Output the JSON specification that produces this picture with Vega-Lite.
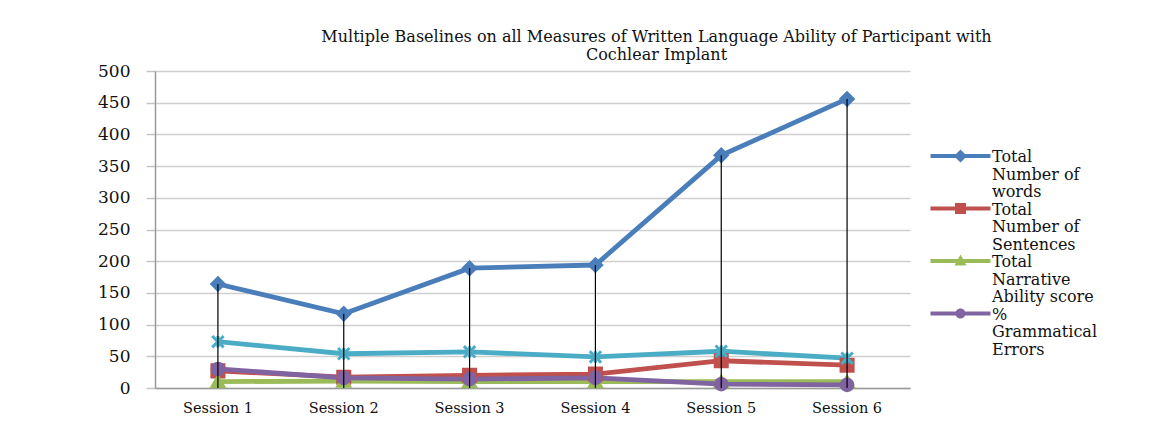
{
  "$schema": "https://vega.github.io/schema/vega-lite/v6.json",
  "width": 755,
  "height": 317,
  "autosize": {"type": "none"},
  "padding": {"left": 155, "top": 71, "right": 258, "bottom": 52},
  "background": "white",
  "config": {
    "view": {"stroke": null},
    "font": "DejaVu Serif",
    "style": {"guide-label": {"lineHeight": 17.5}}
  },
  "title": {
    "text": ["Multiple Baselines on all Measures of Written Language Ability of Participant with", "Cochlear Implant"],
    "font": "DejaVu Serif",
    "fontSize": 16,
    "fontWeight": "normal",
    "color": "#111111",
    "anchor": "middle",
    "frame": "group",
    "dx": 124,
    "offset": -1,
    "lineHeight": 18
  },
  "data": {
    "values": [
      {"session": "Session 1", "series": "Total Number of words", "value": 164},
      {"session": "Session 2", "series": "Total Number of words", "value": 117},
      {"session": "Session 3", "series": "Total Number of words", "value": 189},
      {"session": "Session 4", "series": "Total Number of words", "value": 194},
      {"session": "Session 5", "series": "Total Number of words", "value": 367},
      {"session": "Session 6", "series": "Total Number of words", "value": 456},
      {"session": "Session 1", "series": "Total Number of Sentences", "value": 27},
      {"session": "Session 2", "series": "Total Number of Sentences", "value": 17},
      {"session": "Session 3", "series": "Total Number of Sentences", "value": 20},
      {"session": "Session 4", "series": "Total Number of Sentences", "value": 22},
      {"session": "Session 5", "series": "Total Number of Sentences", "value": 43},
      {"session": "Session 6", "series": "Total Number of Sentences", "value": 36},
      {"session": "Session 1", "series": "Total Narrative Ability score", "value": 10},
      {"session": "Session 2", "series": "Total Narrative Ability score", "value": 11},
      {"session": "Session 3", "series": "Total Narrative Ability score", "value": 10},
      {"session": "Session 4", "series": "Total Narrative Ability score", "value": 10},
      {"session": "Session 5", "series": "Total Narrative Ability score", "value": 10},
      {"session": "Session 6", "series": "Total Narrative Ability score", "value": 10},
      {"session": "Session 1", "series": "% Grammatical Errors", "value": 30},
      {"session": "Session 2", "series": "% Grammatical Errors", "value": 16},
      {"session": "Session 3", "series": "% Grammatical Errors", "value": 14},
      {"session": "Session 4", "series": "% Grammatical Errors", "value": 16},
      {"session": "Session 5", "series": "% Grammatical Errors", "value": 6},
      {"session": "Session 6", "series": "% Grammatical Errors", "value": 5},
      {"session": "Session 1", "series": "Series 5", "value": 73},
      {"session": "Session 2", "series": "Series 5", "value": 54},
      {"session": "Session 3", "series": "Series 5", "value": 57},
      {"session": "Session 4", "series": "Series 5", "value": 49},
      {"session": "Session 5", "series": "Series 5", "value": 58},
      {"session": "Session 6", "series": "Series 5", "value": 47}
    ]
  },
  "encoding": {
    "x": {
      "field": "session",
      "type": "nominal",
      "title": null,
      "scale": {"paddingInner": 0, "paddingOuter": 0},
      "axis": {
        "labelAngle": 0,
        "labelFont": "DejaVu Serif",
        "labelFontSize": 14.5,
        "labelColor": "#111111",
        "labelPadding": 13,
        "ticks": false,
        "domainColor": "#9a9a9a",
        "domainWidth": 1.5,
        "grid": false
      }
    },
    "y": {
      "field": "value",
      "type": "quantitative",
      "title": null,
      "scale": {"domain": [0, 500], "nice": false},
      "axis": {
        "values": [0, 50, 100, 150, 200, 250, 300, 350, 400, 450, 500],
        "labelFont": "DejaVu Serif",
        "labelFontSize": 17,
        "labelColor": "#111111",
        "labelPadding": 16,
        "tickSize": 9,
        "tickColor": "#c4c4c4",
        "tickWidth": 1.5,
        "domainColor": "#9a9a9a",
        "domainWidth": 1.5,
        "gridColor": "#cfcfcf",
        "gridWidth": 1.5
      }
    }
  },
  "resolve": {
    "scale": {"shape": "independent"},
    "legend": {"color": "independent", "shape": "independent", "stroke": "independent", "size": "independent"}
  },
  "layer": [
    {
      "mark": {"type": "line", "strokeWidth": 4.8},
      "encoding": {
        "color": {
          "field": "series",
          "type": "nominal",
          "scale": {
            "domain": ["Total Number of words", "Total Number of Sentences", "Total Narrative Ability score", "% Grammatical Errors", "Series 5"],
            "range": ["#4A7EBB", "#C0504D", "#9BBB59", "#8064A2", "#4BACC6"]
          },
          "legend": null
        }
      }
    },
    {
      "mark": {"type": "point", "filled": true, "strokeWidth": 3, "opacity": 1},
      "encoding": {
        "color": {"field": "series", "type": "nominal", "legend": null},
        "stroke": {
          "field": "series",
          "type": "nominal",
          "scale": {
            "domain": ["Total Number of words", "Total Number of Sentences", "Total Narrative Ability score", "% Grammatical Errors", "Series 5"],
            "range": ["#4A7EBB", "#C0504D", "#9BBB59", "#8064A2", "#4BACC6"]
          },
          "legend": null
        },
        "size": {
          "field": "series",
          "type": "nominal",
          "scale": {
            "domain": ["Total Number of words", "Total Number of Sentences", "Total Narrative Ability score", "% Grammatical Errors", "Series 5"],
            "range": [150, 130, 140, 90, 290]
          },
          "legend": null
        },
        "shape": {
          "field": "series",
          "type": "nominal",
          "scale": {
            "domain": ["Total Number of words", "Total Number of Sentences", "Total Narrative Ability score", "% Grammatical Errors", "Series 5"],
            "range": ["diamond", "square", "triangle-up", "circle", "M-1,-1L1,1M-1,1L1,-1M0,-1L0,1"]
          },
          "legend": null
        }
      }
    },
    {
      "transform": [{"filter": "datum.series == 'Total Number of words'"}],
      "mark": {"type": "rule", "color": "#000000", "strokeWidth": 1.2},
      "encoding": {
        "y2": {"datum": 0}
      }
    },
    {
      "transform": [{"filter": "false"}],
      "mark": {"type": "point", "filled": true, "opacity": 1},
      "encoding": {
        "color": {
          "field": "series",
          "type": "nominal",
          "legend": {
            "title": null,
            "orient": "none",
            "legendX": 775,
            "legendY": 83,
            "values": ["Total Number of words", "Total Number of Sentences", "Total Narrative Ability score", "% Grammatical Errors"],
            "symbolSize": 25,
            "symbolOffset": 22.5,
            "labelOffset": 23.5,
            "labelFont": "DejaVu Serif",
            "labelFontSize": 16,
            "labelColor": "#111111",
            "labelLimit": 300,
            "labelBaseline": "alphabetic",
            "rowPadding": 1.5,
            "labelExpr": "datum.label == 'Total Number of words' ? ['Total', 'Number of', 'words'] : datum.label == 'Total Number of Sentences' ? ['Total', 'Number of', 'Sentences'] : datum.label == 'Total Narrative Ability score' ? ['Total', 'Narrative', 'Ability score'] : ['%', 'Grammatical', 'Errors']"
          }
        },
        "shape": {
          "field": "series",
          "type": "nominal",
          "scale": {
            "domain": ["Total Number of words", "Total Number of Sentences", "Total Narrative Ability score", "% Grammatical Errors", "Series 5"],
            "range": [
              "M-12,-3.2H12V-1.6H-12Z M-2.6,-2.4L0,-5L2.6,-2.4L0,0.2Z",
              "M-12,-3.2H12V-1.6H-12Z M-2.2,-4.6H2.2V-0.2H-2.2Z",
              "M-12,-3.2H12V-1.6H-12Z M0,-5L2.4,-0.6H-2.4Z",
              "M-12,-3.2H12V-1.6H-12Z M-2,-2.4A2,2 0 1,1 2,-2.4A2,2 0 1,1 -2,-2.4Z",
              "M-12,-3.2H12V-1.6H-12Z"
            ]
          },
          "legend": {
            "title": null,
            "orient": "none",
            "legendX": 775,
            "legendY": 83,
            "values": ["Total Number of words", "Total Number of Sentences", "Total Narrative Ability score", "% Grammatical Errors"],
            "symbolSize": 25,
            "symbolOffset": 22.5,
            "labelOffset": 23.5,
            "labelFont": "DejaVu Serif",
            "labelFontSize": 16,
            "labelColor": "#111111",
            "labelLimit": 300,
            "labelBaseline": "alphabetic",
            "rowPadding": 1.5,
            "labelExpr": "datum.label == 'Total Number of words' ? ['Total', 'Number of', 'words'] : datum.label == 'Total Number of Sentences' ? ['Total', 'Number of', 'Sentences'] : datum.label == 'Total Narrative Ability score' ? ['Total', 'Narrative', 'Ability score'] : ['%', 'Grammatical', 'Errors']"
          }
        }
      }
    }
  ]
}
